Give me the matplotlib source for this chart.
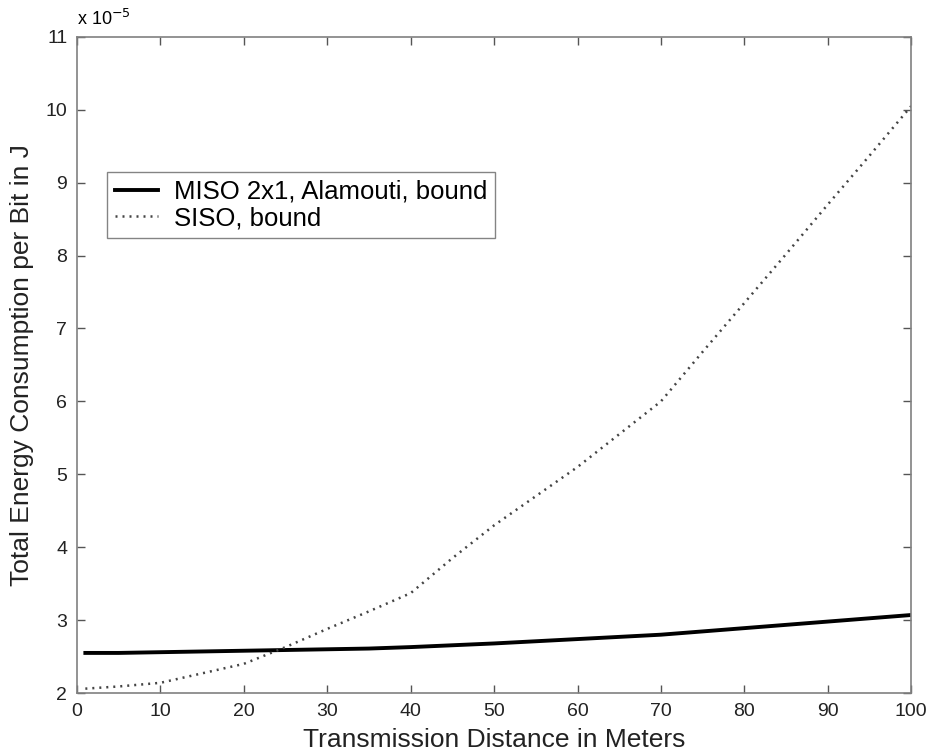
import numpy as np
import matplotlib
matplotlib.use("Agg")
import matplotlib.pyplot as plt

plt.rcParams['font.family'] = ['Liberation Sans', 'DejaVu Sans']

# distances in meters and energy per bit (units of 1e-5 J)
distance = [1, 5, 10, 15, 20, 25, 30, 35, 40, 45, 50, 55, 60, 65, 70, 75, 80, 85, 90, 95, 100]
miso = [2.55, 2.55, 2.56, 2.57, 2.58, 2.59, 2.60, 2.61, 2.63, 2.655, 2.68, 2.71, 2.74, 2.77, 2.80,
        2.845, 2.89, 2.935, 2.98, 3.025, 3.07]
siso = [2.06, 2.09, 2.14, 2.27, 2.40, 2.63, 2.88, 3.12, 3.37, 3.85, 4.30, 4.70, 5.10, 5.55, 6.00,
        6.68, 7.35, 8.02, 8.70, 9.37, 10.05]

xticks = list(range(0, 101, 10))
yticks = list(range(2, 12))

fig = plt.figure(figsize=(9.3, 7.56), dpi=100)
ax = fig.add_axes([0.0828, 0.0833, 0.897, 0.868])

ax.plot(distance, miso, color='black', lw=2.8, label='MISO 2x1, Alamouti, bound')
ax.plot(distance, siso, color='#444444', lw=1.8, ls=(0, (0.8, 2.0)), label='SISO, bound')

ax.set_xlim(0, 100)
ax.set_ylim(2, 11)
ax.set_xticks(xticks)
ax.set_yticks(yticks)
ax.tick_params(direction='in', top=True, right=True, length=6, width=1, color='#555555',
               labelsize=14, pad=7, labelcolor='#222222')
for s in ax.spines.values():
    s.set_color('#808080')
    s.set_linewidth(1.2)

ax.set_xlabel('Transmission Distance in Meters', fontsize=19, color='#222222', labelpad=6)
ax.set_ylabel('Total Energy Consumption per Bit in J', fontsize=19, color='#222222', labelpad=8)
ax.text(0.0, 1.012, r'x 10$^{-5}$', transform=ax.transAxes, fontsize=13, ha='left', va='bottom')

leg = ax.legend(loc='upper left', bbox_to_anchor=(0.036, 0.794), fontsize=18.5, frameon=True,
                fancybox=False, edgecolor='#666666', handlelength=1.7, borderpad=0.3,
                labelspacing=0.1, handletextpad=0.6, borderaxespad=0)
leg.get_frame().set_linewidth(1.0)

fig.savefig('out.png', dpi=100)
